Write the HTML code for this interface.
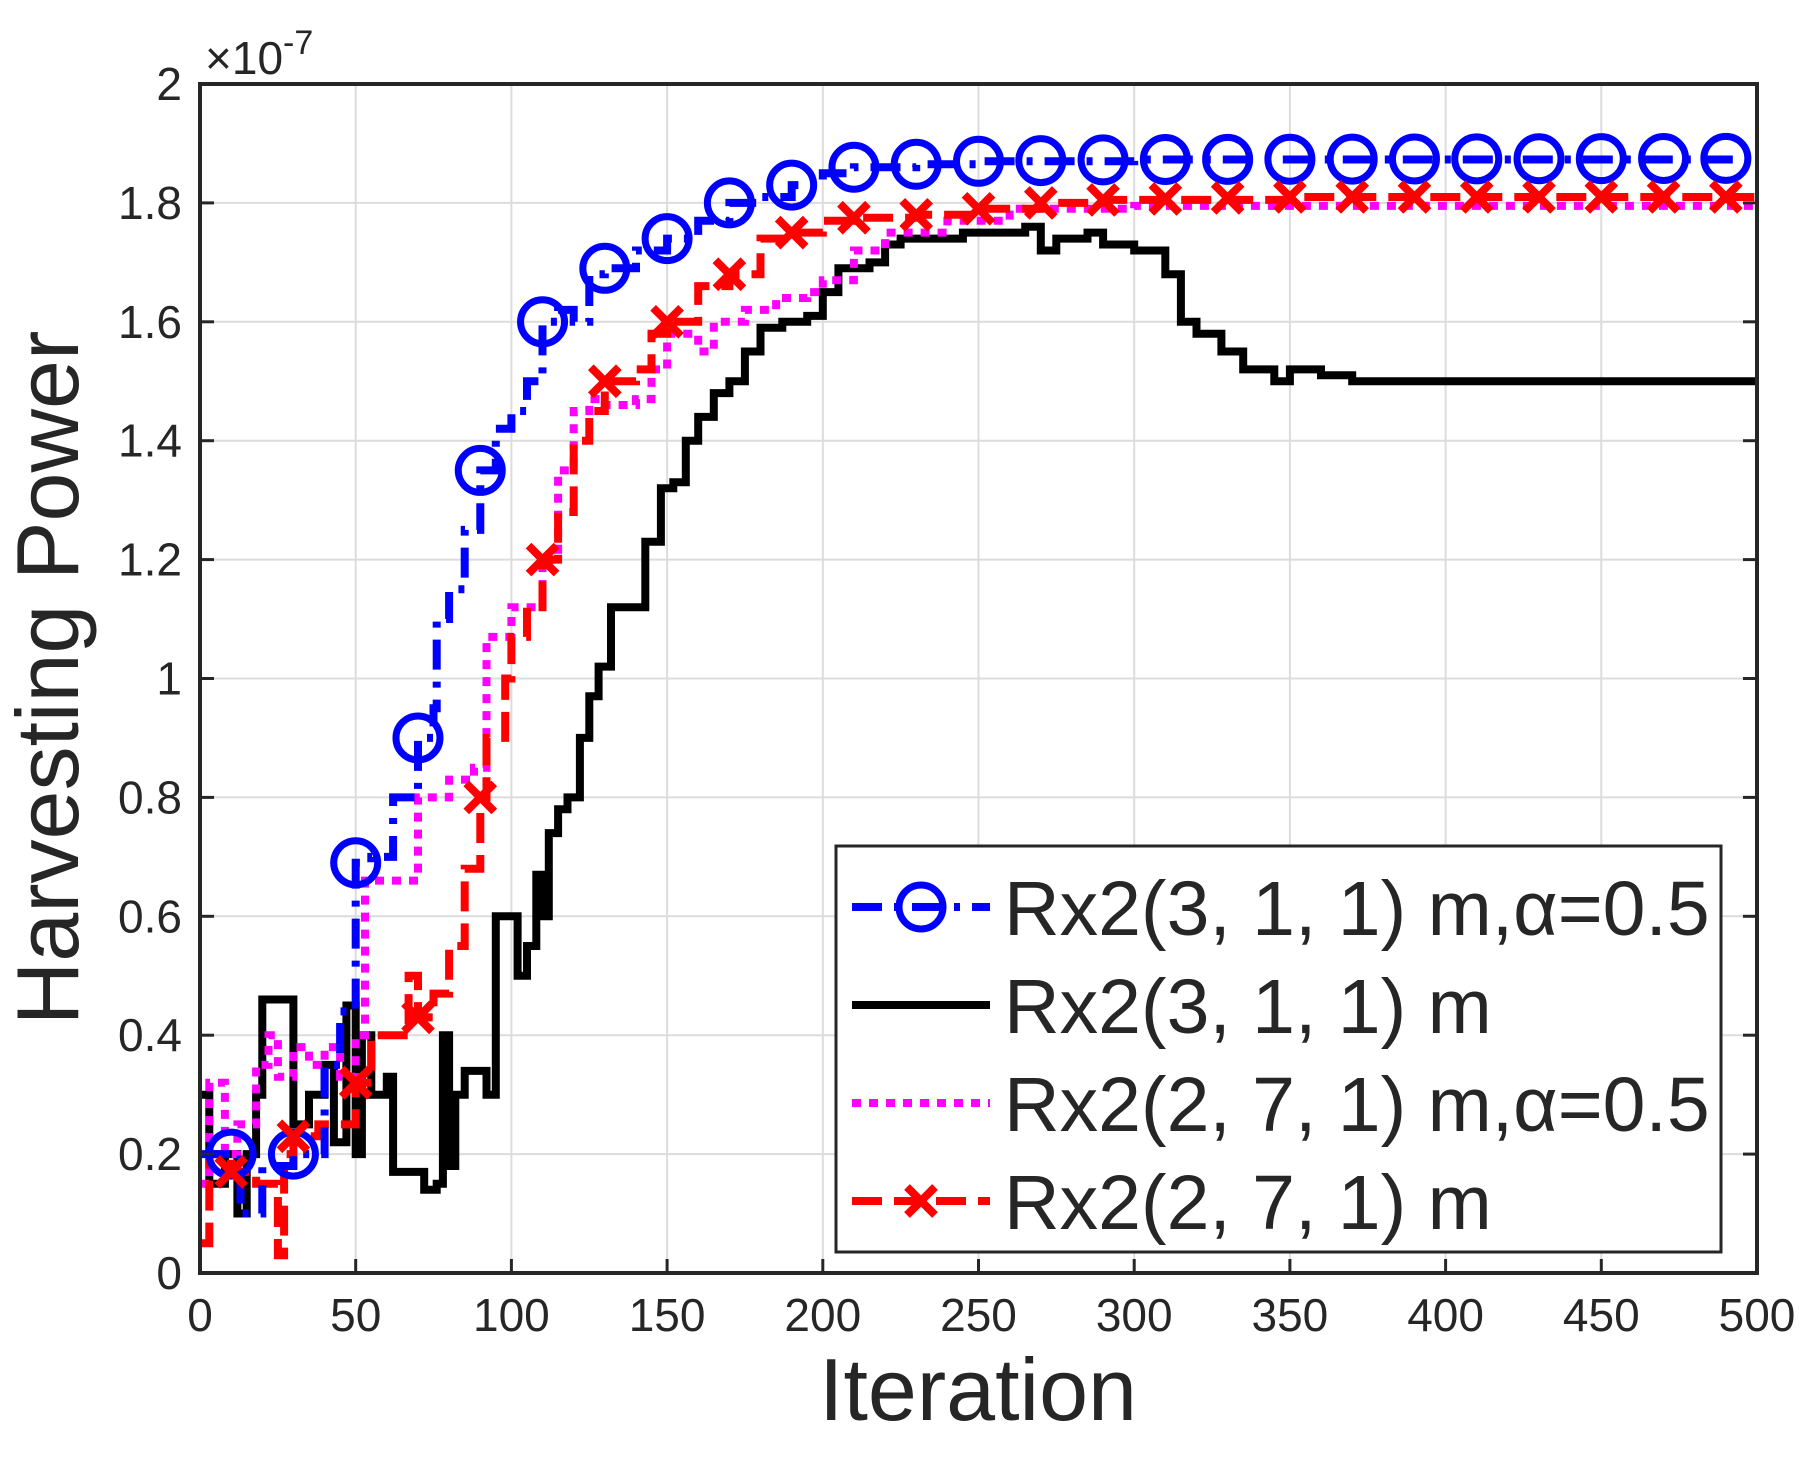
<!DOCTYPE html>
<html><head><meta charset="utf-8"><style>
html,body{margin:0;padding:0;background:#fff;}
svg{display:block;font-family:"Liberation Sans",Arial,sans-serif;}
</style></head><body>
<svg id="chart" width="1816" height="1469" viewBox="0 0 1816 1469" xmlns="http://www.w3.org/2000/svg">
<rect width="1816" height="1469" fill="#fff"/>
<g id="grid"></g>
<g id="series"></g>
<g id="axes"></g>
<text x="0" y="0" transform="translate(78,678) rotate(-90)" text-anchor="middle" font-size="88" fill="#262626">Harvesting Power</text>
<text x="978" y="1420" text-anchor="middle" font-size="88" fill="#262626">Iteration</text>
<text x="205" y="74" font-size="46" fill="#262626">×10<tspan font-size="34" dy="-20">-7</tspan></text>
<g id="legend"></g>
</svg>
<script>
const xTicks=[0,50,100,150,200,250,300,350,400,450,500];
const yTicks=[0,0.2,0.4,0.6,0.8,1,1.2,1.4,1.6,1.8,2];
const yTickLabels=["0","0.2","0.4","0.6","0.8","1","1.2","1.4","1.6","1.8","2"];
const blueX=[0,10,13,20,30,40,45,50,55,62,70,75,76,80,85,90,95,100,105,110,115,120,125,130,140,150,160,170,180,190,200,210,230,250,300,500];
const blueY=[0.2,0.2,0.1,0.18,0.2,0.35,0.44,0.69,0.7,0.8,0.9,0.95,1.1,1.15,1.25,1.35,1.42,1.45,1.5,1.6,1.62,1.6,1.68,1.69,1.72,1.74,1.77,1.8,1.81,1.83,1.85,1.86,1.865,1.87,1.873,1.875];
const blackX=[0,3,8,12,15,18,20,28,30,35,40,43,47,50,52,55,60,62,70,72,76,78,80,82,85,90,92,95,100,102,105,108,110,112,115,118,122,125,128,132,140,143,148,152,156,160,165,170,175,180,187,195,200,205,215,220,225,235,245,255,265,270,275,285,290,300,310,315,320,328,335,345,350,360,370,430,500];
const blackY=[0.3,0.15,0.2,0.1,0.2,0.3,0.46,0.46,0.25,0.3,0.35,0.22,0.45,0.2,0.4,0.3,0.33,0.17,0.17,0.14,0.15,0.4,0.18,0.3,0.34,0.34,0.3,0.6,0.6,0.5,0.55,0.67,0.6,0.74,0.78,0.8,0.9,0.97,1.02,1.12,1.12,1.23,1.32,1.33,1.4,1.44,1.48,1.5,1.55,1.59,1.6,1.61,1.65,1.69,1.7,1.73,1.74,1.74,1.75,1.75,1.76,1.72,1.74,1.75,1.73,1.72,1.68,1.6,1.58,1.55,1.52,1.5,1.52,1.51,1.5,1.5,1.5];
const magX=[0,3,8,12,18,22,25,30,35,40,45,50,53,60,65,70,80,88,92,100,110,115,120,125,130,140,145,150,160,165,175,185,195,200,210,220,240,260,300,500];
const magY=[0.15,0.32,0.2,0.25,0.35,0.4,0.33,0.38,0.35,0.38,0.33,0.4,0.66,0.66,0.66,0.8,0.83,0.85,1.07,1.12,1.2,1.35,1.45,1.47,1.46,1.47,1.52,1.58,1.55,1.6,1.62,1.64,1.65,1.67,1.72,1.75,1.77,1.79,1.795,1.8];
const redX=[0,3,10,18,25,27,30,38,50,55,62,67,70,75,80,85,90,92,98,100,105,110,115,120,125,130,140,145,150,160,170,180,190,200,210,230,250,270,290,350,500];
const redY=[0.05,0.2,0.17,0.15,0.03,0.2,0.23,0.25,0.32,0.4,0.4,0.5,0.43,0.47,0.55,0.68,0.8,0.9,1.0,1.07,1.12,1.2,1.28,1.4,1.45,1.5,1.52,1.58,1.6,1.66,1.68,1.74,1.75,1.77,1.775,1.78,1.79,1.8,1.805,1.81,1.81];
const markerX=[10,30,50,70,90,110,130,150,170,190,210,230,250,270,290,310,330,350,370,390,410,430,450,470,490];

const L=200,R=1757,T=84,B=1273;
const NS="http://www.w3.org/2000/svg";
function sx(v){return L+(v-0)/(500-0)*(R-L);}
function sy(v){return B-(v-0)/(2-0)*(B-T);}
function mk(tag,attrs,parent){const e=document.createElementNS(NS,tag);for(const k in attrs)e.setAttribute(k,attrs[k]);parent.appendChild(e);return e;}
function interp(xs,ys,x){for(let i=0;i<xs.length-1;i++){if(x>=xs[i]&&x<=xs[i+1]){const t=(x-xs[i])/((xs[i+1]-xs[i])||1);return ys[i]+t*(ys[i+1]-ys[i]);}}return ys[ys.length-1];}
const grid=document.getElementById('grid'),axes=document.getElementById('axes'),ser=document.getElementById('series'),leg=document.getElementById('legend');
xTicks.forEach((v,i)=>{
  const g=mk('line',{x1:sx(v),x2:sx(v),y1:T,y2:B,stroke:'#dcdcdc','stroke-width':2},grid);
  
  
  const t=mk('line',{x1:sx(v),x2:sx(v),y1:B,y2:B-14,stroke:'#262626','stroke-width':3},axes);
  
  
  const tx=mk('text',{x:sx(v),y:B+58,'text-anchor':'middle','font-size':46,fill:'#262626'},axes);
  tx.textContent=String(v);
  
  
});
yTicks.forEach((v,i)=>{
  const g=mk('line',{x1:L,x2:R,y1:sy(v),y2:sy(v),stroke:'#dcdcdc','stroke-width':2},grid);
  
  
  const t=mk('line',{x1:L,x2:L+14,y1:sy(v),y2:sy(v),stroke:'#262626','stroke-width':3},axes);
  
  
  const t2=mk('line',{x1:R,x2:R-14,y1:sy(v),y2:sy(v),stroke:'#262626','stroke-width':3},axes);
  
  
  const tx=mk('text',{x:L-18,y:sy(v)+16,'text-anchor':'end','font-size':46,fill:'#262626'},axes);
  tx.textContent=yTickLabels[i];
  
  
});
const box=mk('rect',{x:L,y:T,width:R-L,height:B-T,fill:'none',stroke:'#262626','stroke-width':4},axes);



function stepPath(xs,ys){let d='M'+sx(xs[0]).toFixed(1)+','+sy(ys[0]).toFixed(1);for(let i=1;i<xs.length;i++){d+='H'+sx(xs[i]).toFixed(1)+'V'+sy(ys[i]).toFixed(1);}return d;}
function drawLine(xs,ys,color,dash,name){
  const p=mk('path',{d:stepPath(xs,ys),fill:'none',stroke:color,'stroke-width':8,'stroke-dasharray':dash,'stroke-linejoin':'miter'},ser);
  
  
}
function circle(cx,cy,parent){const c=mk('circle',{cx:cx,cy:cy,r:22,fill:'none',stroke:'#0000ff','stroke-width':7},parent);return c;}
function cross(cx,cy,parent){const g=mk('path',{d:`M${cx-14},${cy-14}L${cx+14},${cy+14}M${cx-14},${cy+14}L${cx+14},${cy-14}`,stroke:'#ff0000','stroke-width':8,fill:'none'},parent);return g;}

drawLine(blackX,blackY,'#000','none','series-rx2-311-m');
drawLine(magX,magY,'#ff00ff','9 8','series-rx2-271-m-alpha');
drawLine(redX,redY,'#ff0000','30 12','series-rx2-271-m');
drawLine(blueX,blueY,'#0000ff','30 12 6 12','series-rx2-311-m-alpha');
markerX.forEach(x=>{
  const c=circle(sx(x),sy(interp(blueX,blueY,x)),ser);
  
  
  const k=cross(sx(x),sy(interp(redX,redY,x)),ser);
  
  
});

const lb=mk('rect',{x:836,y:846,width:885,height:406,fill:'#fff',stroke:'#262626','stroke-width':3},leg);


const entries=[
 {label:'Rx2(3, 1, 1) m,α=0.5',color:'#0000ff',dash:'30 12 6 12',m:'o',y:907},
 {label:'Rx2(3, 1, 1) m',color:'#000',dash:'none',m:'',y:1005},
 {label:'Rx2(2, 7, 1) m,α=0.5',color:'#ff00ff',dash:'9 8',m:'',y:1103},
 {label:'Rx2(2, 7, 1) m',color:'#ff0000',dash:'30 12',m:'x',y:1201}
];
entries.forEach(e=>{
  const g=mk('g',{},leg);
  
  
  mk('line',{x1:852,x2:990,y1:e.y,y2:e.y,stroke:e.color,'stroke-width':8,'stroke-dasharray':e.dash},g);
  if(e.m==='o')circle(921,e.y,g);
  if(e.m==='x')cross(921,e.y,g);
  const t=mk('text',{x:1004,y:e.y+28,'font-size':77,fill:'#262626'},g);
  t.textContent=e.label;
});
</script>
</body></html>
